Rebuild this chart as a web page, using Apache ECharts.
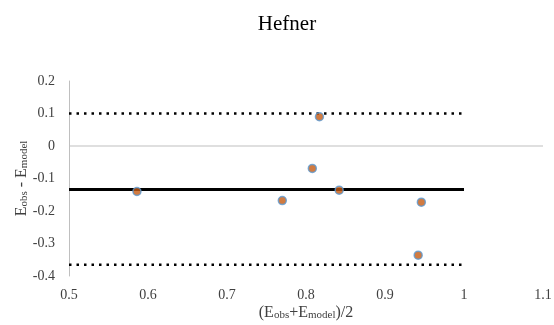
<!DOCTYPE html>
<html lang="en">
<head>
    <meta charset="UTF-8">
    <title>Hefner</title>
    <style>
        html, body { margin: 0; padding: 0; background: #fff; }
    </style>
</head>
<body>
<div id="chart" style="width:554px;height:325px;"></div>
<script src="https://cdn.jsdelivr.net/npm/echarts@6/dist/echarts.min.js"></script>
<script type="text/javascript">

    // mean of the two methods (x) and their difference (y)
    var meanVals = [0.586, 0.770, 0.808, 0.817, 0.842, 0.946, 0.942];
    var diffVals = [-0.140, -0.168, -0.069, 0.090, -0.136, -0.173, -0.336];

    // bias line and limits of agreement
    var bias = -0.134;
    var upperLoA = 0.1;
    var lowerLoA = -0.365;
    var lineRange = [0.5, 1.0];
    var zeroRange = [0.5, 1.1];

    var xTicks = [0.5, 0.6, 0.7, 0.8, 0.9, 1, 1.1];
    var yTicks = [0.2, 0.1, 0, -0.1, -0.2, -0.3, -0.4];

    var points = [];
    for (var i = 0; i < meanVals.length; i++) {
        points.push([meanVals[i], diffVals[i]]);
    }

    function hline(y, range) {
        return [[range[0], y], [range[1], y]];
    }

    var font = 'Liberation Serif';
    var nameRich = {
        n: { fontFamily: font, fontSize: 16, color: '#404040', verticalAlign: 'bottom', lineHeight: 18 },
        s: { fontFamily: font, fontSize: 11, color: '#404040', verticalAlign: 'bottom', lineHeight: 13 }
    };
    var myChart = echarts.init(document.getElementById('chart'));

    var option = {
        animation: false,
        title: {
            text: 'Hefner',
            left: 282,
            top: 9,
            textAlign: 'center',
            textStyle: { fontFamily: font, fontSize: 21, fontWeight: 'normal', color: '#000' }
        },
        grid: { left: 69, right: 11, top: 81, bottom: 49, outerBoundsMode: 'none', containLabel: false },
        xAxis: {
            type: 'value',
            min: xTicks[0],
            max: xTicks[xTicks.length - 1],
            interval: 0.1,
            axisLine: { show: false },
            axisTick: { show: false },
            splitLine: { show: false },
            axisLabel: { fontFamily: font, fontSize: 14, color: '#404040', margin: 12 },
            name: '{n|(E}{s|obs}{n|+E}{s|model}{n|)/2}',
            nameLocation: 'middle',
            nameGap: 27,
            nameMoveOverlap: false,
            nameTextStyle: { rich: nameRich }
        },
        yAxis: {
            type: 'value',
            min: yTicks[yTicks.length - 1],
            max: yTicks[0],
            interval: 0.1,
            axisLine: { show: true, onZero: false, lineStyle: { color: '#BFBFBF', width: 1 } },
            axisTick: { show: false },
            splitLine: { show: false },
            axisLabel: { fontFamily: font, fontSize: 14, color: '#404040', margin: 14 },
            name: '{n|E}{s|obs}{n| - E}{s|model}',
            nameLocation: 'middle',
            nameGap: 39,
            nameMoveOverlap: false,
            nameTextStyle: { rich: nameRich }
        },
        series: [
            {
                name: 'zero',
                type: 'line',
                data: hline(0, zeroRange),
                symbol: 'none',
                lineStyle: { color: '#BFBFBF', width: 1 },
                z: 1
            },
            {
                name: 'upper',
                type: 'line',
                data: hline(upperLoA, lineRange),
                symbol: 'none',
                lineStyle: { color: '#000', width: 2.5, type: [2.5, 5], cap: 'butt' },
                z: 2
            },
            {
                name: 'lower',
                type: 'line',
                data: hline(lowerLoA, lineRange),
                symbol: 'none',
                lineStyle: { color: '#000', width: 2.5, type: [2.5, 5], cap: 'butt' },
                z: 2
            },
            {
                name: 'bias',
                type: 'line',
                data: hline(bias, lineRange),
                symbol: 'none',
                lineStyle: { color: '#000', width: 3 },
                z: 2
            },
            {
                name: 'points',
                type: 'scatter',
                data: points,
                symbolSize: 8,
                itemStyle: { color: '#C55A11', borderColor: '#5B9BD5', borderWidth: 1.5 },
                z: 5
            }
        ]
    };

    myChart.setOption(option);
</script>
</body>
</html>
